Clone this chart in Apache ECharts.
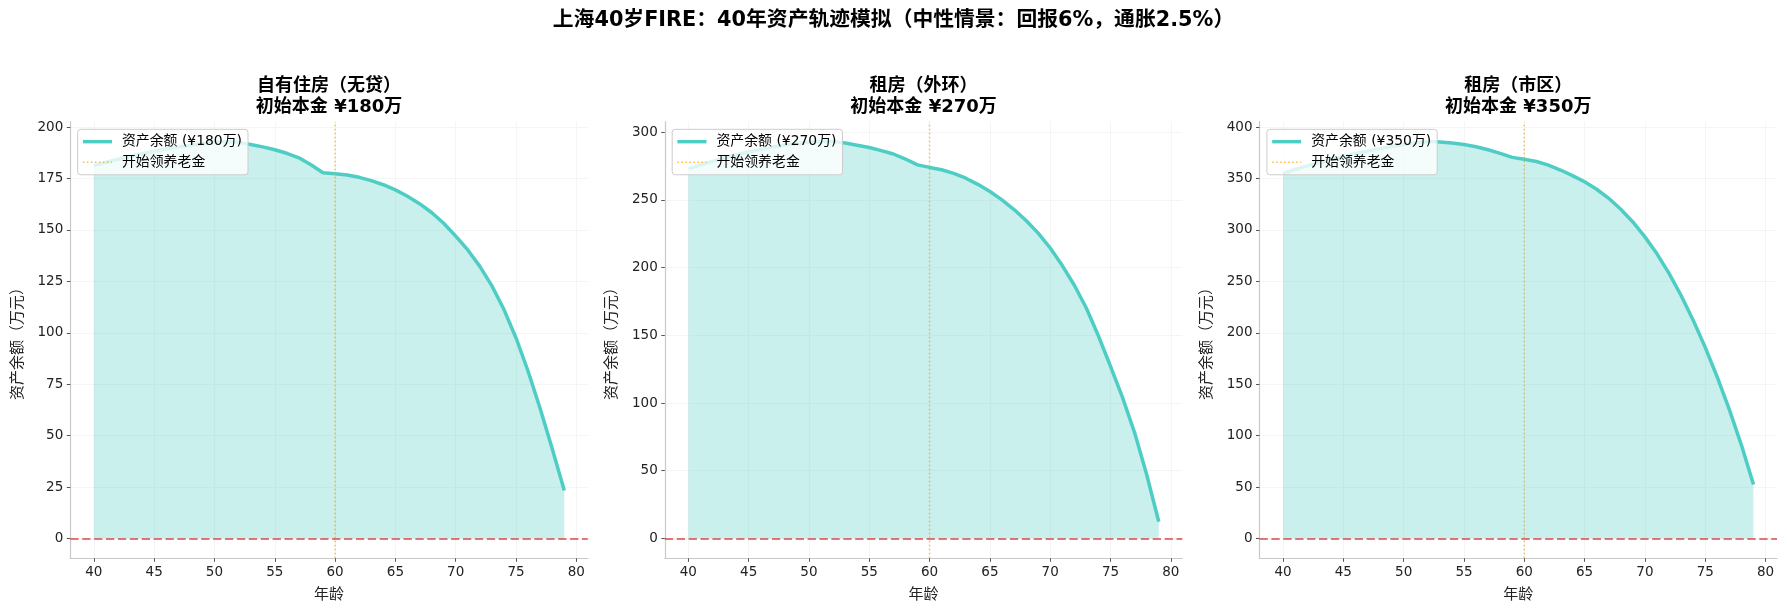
<!DOCTYPE html>
<html>
<head>
<meta charset="utf-8">
<script src="https://cdn.jsdelivr.net/npm/echarts@6/dist/echarts.min.js"></script>
<style>
html,body{margin:0;padding:0;background:#ffffff;}
#chart{width:1787px;height:615px;}
</style>
</head>
<body>
<div id="chart"></div>
<script>
// ---------------- data ----------------
const mainTitle = '上海40岁FIRE：40年资产轨迹模拟（中性情景：回报6%，通胀2.5%）';
const ages = [40,41,42,43,44,45,46,47,48,49,50,51,52,53,54,55,56,57,58,59,
              60,61,62,63,64,65,66,67,68,69,70,71,72,73,74,75,76,77,78,79];
const assets180 = [181.3,182.9,184.4,185.8,187.1,188.3,189.4,190.4,191.2,192.0,
                   192.6,193.0,192.6,191.6,190.4,189.0,187.3,185.1,181.7,177.8,
                   177.3,176.7,175.6,174.0,172.0,169.5,166.4,162.8,158.5,153.3,
                   147.0,140.3,132.3,122.8,111.3,97.5,81.3,63.2,43.6,23.3];
const assets270 = [272.9,275.8,278.5,281.0,283.3,285.4,287.3,289.0,290.5,291.7,
                   292.6,293.1,293.1,292.0,290.4,288.7,286.4,283.9,280.2,275.9,
                   274.0,272.3,269.6,266.0,261.5,256.2,250.0,242.9,234.8,225.5,
                   214.5,201.5,187.0,170.0,149.5,127.0,104.0,78.0,47.0,12.3];
const assets350 = [355.1,358.8,362.3,365.6,368.7,371.6,374.3,376.8,379.1,381.2,
                   383.1,384.8,386.0,385.6,384.6,383.2,381.0,378.0,374.5,370.6,
                   368.7,366.6,363.0,358.3,352.9,346.9,339.6,330.8,320.2,307.8,
                   293.3,276.8,257.8,236.3,212.3,185.8,156.8,125.3,90.8,52.5];
const panelTitles = ['自有住房（无贷）','租房（外环）','租房（市区）'];
const principals = [180, 270, 350];
const xTicks = [40,45,50,55,60,65,70,75,80];
const yTicks180 = [0,25,50,75,100,125,150,175,200];
const yTicks270 = [0,50,100,150,200,250,300];
const yTicks350 = [0,50,100,150,200,250,300,350,400];
const pensionAge = 60;
const pensionLabel = '开始领养老金';
const xName = '年龄';
const yName = '资产余额（万元）';

// ---------------- layout / style ----------------
const FONT = "'DejaVu Sans', 'Noto Sans CJK SC', sans-serif";
const gridLefts = [70.3, 664.8, 1259.5];
const gridTop = 121.7, gridW = 517.5, gridH = 436.6;
const TEAL = '#4ECDC4';
const ORANGE = 'rgba(255,165,0,0.75)';
const REDLINE = 'rgba(220,60,60,0.7)';

const panels = [
  {values: assets180, yTicks: yTicks180},
  {values: assets270, yTicks: yTicks270},
  {values: assets350, yTicks: yTicks350}
];

const xMinAge = Math.min(...ages), xMaxAge = Math.max(...ages);
const xPad = (xMaxAge - xMinAge) * 0.05;

const option = {
  animation: false,
  backgroundColor: '#ffffff',
  title: [], grid: [], xAxis: [], yAxis: [], series: [], legend: []
};

option.title.push({
  text: mainTitle, left: 893.5, top: 8, textAlign: 'center', padding: 0,
  textStyle: {fontFamily: FONT, fontSize: 20.8, fontWeight: 'bold', color: '#000', lineHeight: 25}
});

const axisLineStyle = {color: '#c8c8c8', width: 1.2};
const tickLineStyle = {color: '#555', width: 1};
const splitStyle = {color: '#f3f3f3', width: 0.8};

panels.forEach((p, i) => {
  const left = gridLefts[i];
  const maxV = Math.max(...p.values);
  const yMin = -0.05 * maxV, yMax = 1.05 * maxV;
  const seriesName = '资产余额 (¥' + principals[i] + '万)';

  option.grid.push({left: left, top: gridTop, width: gridW, height: gridH});

  option.title.push({
    text: panelTitles[i] + '\n初始本金 ¥' + principals[i] + '万',
    left: left + gridW / 2, top: 75, textAlign: 'center', padding: 0,
    textStyle: {fontFamily: FONT, fontSize: 18, fontWeight: 'bold', color: '#000', lineHeight: 21.7}
  });

  option.xAxis.push({
    type: 'value', gridIndex: i, min: xMinAge - xPad, max: xMaxAge + xPad,
    name: xName, nameLocation: 'middle', nameGap: 29,
    nameTextStyle: {fontFamily: FONT, fontSize: 15, color: '#222'},
    axisLine: {show: true, onZero: false, lineStyle: axisLineStyle},
    axisTick: {show: true, customValues: xTicks, length: 3.5, lineStyle: tickLineStyle},
    axisLabel: {customValues: xTicks, margin: 7, fontFamily: FONT, fontSize: 13.5, color: '#222'},
    splitLine: {show: true, lineStyle: splitStyle}
  });

  option.yAxis.push({
    type: 'value', gridIndex: i, min: yMin, max: yMax,
    name: yName, nameLocation: 'middle', nameGap: 45, nameRotate: 90,
    nameTextStyle: {fontFamily: FONT, fontSize: 15, color: '#222'},
    axisLine: {show: true, onZero: false, lineStyle: axisLineStyle},
    axisTick: {show: true, customValues: p.yTicks, length: 3.5, lineStyle: tickLineStyle},
    axisLabel: {customValues: p.yTicks, margin: 7, fontFamily: FONT, fontSize: 13.5, color: '#222'},
    splitLine: {show: true, lineStyle: splitStyle}
  });

  option.series.push({
    type: 'line', name: seriesName, xAxisIndex: i, yAxisIndex: i,
    data: ages.map((a, k) => [a, p.values[k]]),
    symbol: 'none', showSymbol: false,
    lineStyle: {color: TEAL, width: 3.5},
    itemStyle: {color: TEAL},
    areaStyle: {color: TEAL, opacity: 0.3},
    z: 3,
    markLine: {
      silent: true, symbol: 'none', label: {show: false}, animation: false,
      lineStyle: {color: REDLINE, type: [8.3, 3.6], width: 1.8},
      data: [{yAxis: 0}]
    }
  });

  option.series.push({
    type: 'line', name: pensionLabel, xAxisIndex: i, yAxisIndex: i,
    data: [[pensionAge, yMin], [pensionAge, yMax]],
    symbol: 'none', showSymbol: false,
    lineStyle: {color: ORANGE, width: 1.5, type: [1.5, 2.5]},
    itemStyle: {color: ORANGE},
    z: 4
  });

  option.legend.push({
    left: left + 7.4, top: gridTop + 7.6, orient: 'vertical',
    data: [
      {name: seriesName, lineStyle: {color: TEAL, width: 3.5, type: 'solid'}},
      {name: pensionLabel, lineStyle: {color: ORANGE, width: 1.5, type: [1.5, 2.5]}}
    ],
    itemWidth: 29, itemHeight: 14, itemGap: 6.6,
    padding: [5.4, 6, 5.7, 3.5],
    backgroundColor: 'rgba(255,255,255,0.8)',
    borderColor: '#cccccc', borderWidth: 1, borderRadius: 3,
    selectedMode: false,
    itemStyle: {opacity: 0},
    textStyle: {fontFamily: FONT, fontSize: 13.9, color: '#000', padding: [0, 0, 0, 5]},
    z: 10
  });
});

const chart = echarts.init(document.getElementById('chart'), null, {renderer: 'canvas'});
chart.setOption(option);
</script>
</body>
</html>
